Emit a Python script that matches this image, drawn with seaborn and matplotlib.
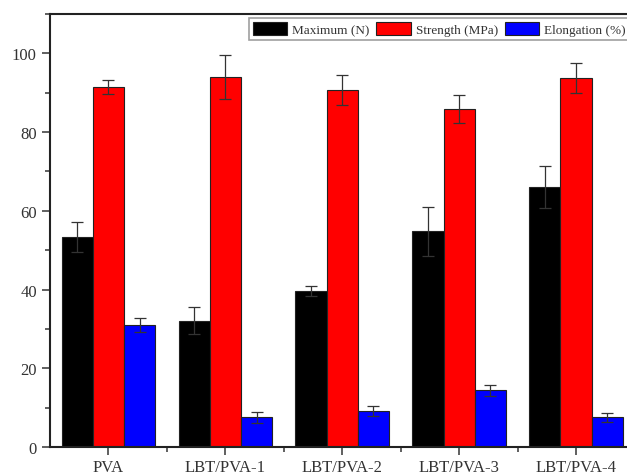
import numpy as np
import pandas as pd
import seaborn as sns
from matplotlib import pyplot as plt
from matplotlib.ticker import MultipleLocator, FixedLocator

samples = ["PVA", "LBT/PVA-1", "LBT/PVA-2", "LBT/PVA-3", "LBT/PVA-4"]
series = ["Maximum (N)", "Strength (MPa)", "Elongation (%)"]

maximum = [53.3, 32.1, 39.6, 54.8, 66.0]
maximum_err = [3.8, 3.4, 1.3, 6.2, 5.3]
strength = [91.5, 93.9, 90.6, 85.8, 93.7]
strength_err = [1.8, 5.6, 3.8, 3.5, 3.8]
elongation = [31.0, 7.5, 9.2, 14.4, 7.5]
elongation_err = [1.7, 1.4, 1.2, 1.4, 1.2]

colors = ["#000000", "#ff0000", "#0000ff"]

df = pd.DataFrame({
    "sample": samples * 3,
    "series": [s for s in series for _ in samples],
    "value": maximum + strength + elongation,
    "err": maximum_err + strength_err + elongation_err,
})

sns.set_style("ticks")
plt.rcParams["font.family"] = ["Liberation Serif", "DejaVu Serif"]

fig = plt.figure(figsize=(6.27, 4.77), dpi=100)
ax = fig.add_axes([50 / 627, 1 - 448 / 477, 584.5 / 627, 433 / 477])

sns.barplot(data=df, x="sample", y="value", hue="series", order=samples,
            hue_order=series, palette=colors, width=0.8, errorbar=None,
            edgecolor="#222222", linewidth=0.8, saturation=1, ax=ax)

# error bars at the centre of each bar
for container, s in zip(ax.containers, series):
    sub = df[df["series"] == s].set_index("sample").loc[samples]
    xs = [p.get_x() + p.get_width() / 2 for p in container.patches]
    ax.errorbar(xs, sub["value"], yerr=sub["err"], fmt="none",
                ecolor="#333333", elinewidth=0.9, capsize=4, capthick=0.9)

ax.set_xlim(-0.5, 4.5)
ax.set_ylim(0, 110)
ax.set_xlabel("")
ax.set_ylabel("")
ax.yaxis.set_major_locator(MultipleLocator(20))
ax.yaxis.set_minor_locator(MultipleLocator(10))
ax.xaxis.set_minor_locator(FixedLocator([0.5, 1.5, 2.5, 3.5]))
ax.tick_params(axis="both", which="major", labelsize=12, length=6, width=1.2,
               color="#444444", labelcolor="#333333")
ax.tick_params(axis="x", which="major", pad=2.5)
ax.tick_params(axis="both", which="minor", length=3.5, width=1.2, color="#444444")
for side in ["left", "bottom", "top", "right"]:
    ax.spines[side].set_visible(True)
    ax.spines[side].set_linewidth(1.5)
    ax.spines[side].set_color("#222222")

leg = ax.legend(ncol=3, loc="upper right", bbox_to_anchor=(0.992, 0.991),
                borderaxespad=0, fontsize=9.5, frameon=True, fancybox=False,
                handlelength=2.6, handleheight=1.15, columnspacing=0.5,
                handletextpad=0.4, borderpad=0.3, edgecolor="#888888")
leg.get_frame().set_linewidth(1.2)
for t in leg.get_texts():
    t.set_color("#333333")

fig.savefig("out.png", dpi=100)
